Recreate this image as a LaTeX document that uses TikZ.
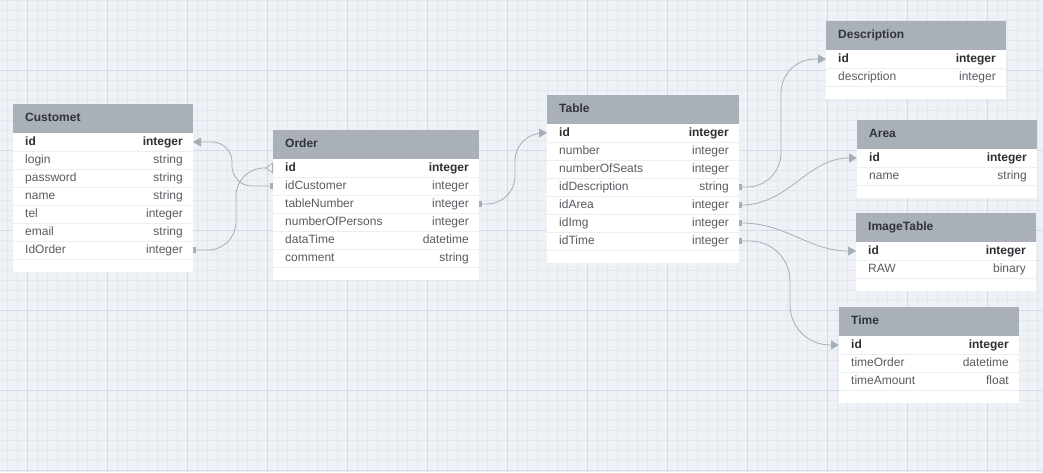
\documentclass[tikz,border=0pt]{standalone}
\usepackage{fontspec}
\setmainfont{Liberation Sans}
\usetikzlibrary{arrows.meta}
\definecolor{bgcol}{RGB}{238,242,247}
\definecolor{gridminor}{RGB}{225,232,242}
\definecolor{gridmajor}{RGB}{208,220,237}
\definecolor{hdrcol}{RGB}{170,176,184}
\definecolor{hdrtext}{RGB}{48,52,58}
\definecolor{rowtext}{RGB}{88,92,97}
\definecolor{idtext}{RGB}{45,48,52}
\definecolor{sepcol}{RGB}{236,238,241}
\definecolor{conncol}{RGB}{168,174,181}
\tikzset{
  tbody/.style={fill=white, draw=none, inner sep=0pt, outer sep=0pt},
  thead/.style={fill=hdrcol, draw=none, inner sep=0pt, outer sep=0pt, minimum height=29pt},
  trow/.style={draw=none, inner sep=0pt, outer sep=0pt, minimum height=18pt},
  ttitle/.style={inner sep=0pt, text height=8.6pt, text depth=2.4pt, text=hdrtext, font=\fontsize{12}{14}\selectfont\bfseries},
  rname/.style={inner sep=0pt, text height=8.6pt, text depth=2.4pt, text=rowtext, font=\fontsize{12}{14}\selectfont},
  sepline/.style={draw=sepcol, line width=1pt},
  conn/.style={draw=conncol, line width=0.8pt},
  stub/.tip={Rectangle[round,length=3pt,width=6pt]},
  arrowhd/.tip={Triangle[length=8pt,width=9pt]},
  crowft/.tip={Triangle[open,reversed,length=8pt,width=11pt]}
}
% #1 name, #2 x, #3 y, #4 width, #5 number of rows, #6 title, #7 rows
\newcommand\dbtable[7]{%
  \node[tbody, anchor=north west, minimum width=#4pt, minimum height=29pt+18pt*#5+13pt] (#1) at (#2,#3) {};
  \node[thead, anchor=north west, minimum width=#4pt] (#1-h) at (#2,#3) {};
  \node[ttitle, anchor=west] (#1-t) at ([xshift=12pt]#1-h.west) {#6};
  \foreach \n/\t [count=\i] in {#7} {
    \node[trow, anchor=north west, minimum width=#4pt] (#1-\i) at (#2,{#3+29+18*(\i-1)}) {};
    \draw[sepline] (#1-\i.south west) -- (#1-\i.south east);
    \node[rname, anchor=west] (#1-\i-n) at ([xshift=12pt]#1-\i.west) {\ifnum\i=1 \color{idtext}\bfseries\fi\n};
    \node[rname, anchor=east] (#1-\i-t) at ([xshift=-10pt]#1-\i.east) {\ifnum\i=1 \color{idtext}\bfseries\fi\t};
  }%
}
\begin{document}
\begin{tikzpicture}[x=1pt, y=-1pt]
\useasboundingbox (0,0) rectangle (1043,472);
% background grid
\fill[bgcol] (0,0) rectangle (1043,472);
\foreach \x in {7,17,...,1040} \draw[gridminor, line width=0.5pt] (\x,0) -- (\x,472);
\foreach \y in {0.7,10.7,...,471} \draw[gridminor, line width=0.5pt] (0,\y) -- (1043,\y);
\foreach \x in {27,107,...,1040} \draw[gridmajor, line width=0.5pt] (\x,0) -- (\x,472);
\foreach \y in {70.7,150.7,...,471} \draw[gridmajor, line width=0.5pt] (0,\y) -- (1043,\y);

% tables
\dbtable{cust}{13}{104}{180}{7}{Customet}{id/integer, login/string, password/string, name/string, tel/integer, email/string, IdOrder/integer}
\dbtable{ord}{273}{130}{206}{6}{Order}{id/integer, idCustomer/integer, tableNumber/integer, numberOfPersons/integer, dataTime/datetime, comment/string}
\dbtable{tab}{547}{95}{192}{7}{Table}{id/integer, number/integer, numberOfSeats/integer, idDescription/string, idArea/integer, idImg/integer, idTime/integer}
\dbtable{desc}{826}{21}{180}{2}{Description}{id/integer, description/integer}
\dbtable{area}{857}{120}{180}{2}{Area}{id/integer, name/string}
\dbtable{img}{856}{213}{180}{2}{ImageTable}{id/integer, RAW/binary}
\dbtable{time}{839}{307}{180}{3}{Time}{id/integer, timeOrder/datetime, timeAmount/float}

% bend coordinates
\coordinate (v1) at (232,0);
\coordinate (v2) at (236,0);
\coordinate (v3) at (515,0);
\coordinate (v4) at (781,0);
\coordinate (v7) at (790,0);

% connectors
\draw[conn, rounded corners=20pt, {stub}-{arrowhd}] (ord-2.west) -- (ord-2.west -| v1) -- (cust-1.east -| v1) -- (cust-1.east);
\draw[conn, rounded corners=28pt, {stub}-{crowft}] (cust-7.east) -- (cust-7.east -| v2) -- (ord-1.west -| v2) -- (ord-1.west);
\draw[conn, rounded corners=28pt, {stub}-{arrowhd}] (ord-3.east) -- (ord-3.east -| v3) -- (tab-1.west -| v3) -- (tab-1.west);
\draw[conn, rounded corners=34pt, {stub}-{arrowhd}] (tab-4.east) -- (tab-4.east -| v4) -- (desc-1.west -| v4) -- (desc-1.west);
\draw[conn, {stub}-{arrowhd}] (tab-5.east) to[out=0, in=180] (area-1.west);
\draw[conn, {stub}-{arrowhd}] (tab-6.east) to[out=0, in=180] (img-1.west);
\draw[conn, rounded corners=40pt, {stub}-{arrowhd}] (tab-7.east) -- (tab-7.east -| v7) -- (time-1.west -| v7) -- (time-1.west);
\end{tikzpicture}
\end{document}
